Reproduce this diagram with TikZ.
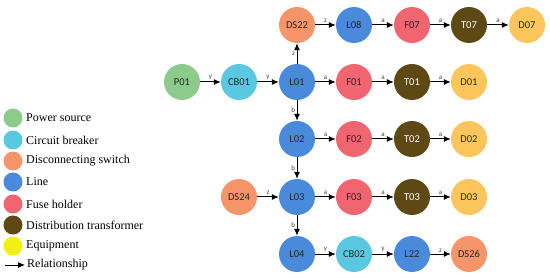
\documentclass[tikz,border=0pt]{standalone}
\usepackage{fontspec}
\setmainfont{Liberation Serif}
\newfontfamily\labelfont{Carlito}
\usepackage{xcolor}
\usetikzlibrary{arrows.meta, positioning}

\definecolor{cPower}{HTML}{8CCB8C}
\definecolor{cBreaker}{HTML}{5BC8E2}
\definecolor{cSwitch}{HTML}{F7956A}
\definecolor{cLine}{HTML}{4A8ADB}
\definecolor{cFuse}{HTML}{EF6570}
\definecolor{cTrans}{HTML}{5E4814}
\definecolor{cEquip}{HTML}{F2F012}
\definecolor{cLoad}{HTML}{FDC65C}

\begin{document}
\begin{tikzpicture}[
    x=1pt, y=-1pt,
    comp node/.style={circle, fill=#1, draw=none, minimum size=36pt, inner sep=0pt, font=\labelfont\fontsize{10.5}{12}\selectfont, text=black!85},
    legend dot/.style={circle, fill=#1, draw=none, minimum size=19pt, inner sep=0pt},
    legend text/.style={anchor=west, inner sep=0pt, font=\fontsize{12}{14}\selectfont},
    rel edge/.style={-{Latex[length=7pt, width=6pt]}, line width=1pt, black},
    edge label/.style={font=\labelfont\fontsize{7}{8}\selectfont, text=black!75, inner sep=1.5pt}
]
    \useasboundingbox (0,0) rectangle (550,278);

    % Fila 0
    \node[comp node=cSwitch] (ds22) at (297, 25) {DS22};
    \node[comp node=cLine]   (l08)  at (354, 25) {L08};
    \node[comp node=cFuse]   (f07)  at (412, 25) {F07};
    \node[comp node=cTrans, text=white!90] (t07) at (469, 25) {T07};
    \node[comp node=cLoad]   (d07)  at (527, 25) {D07};

    % Fila 1
    \node[comp node=cPower]   (p01)  at (182, 82) {P01};
    \node[comp node=cBreaker] (cb01) at (239, 82) {CB01};
    \node[comp node=cLine]    (l01)  at (297, 82) {L01};
    \node[comp node=cFuse]    (f01)  at (354, 82) {F01};
    \node[comp node=cTrans, text=white!90] (t01) at (412, 82) {T01};
    \node[comp node=cLoad]    (d01)  at (469, 82) {D01};

    % Fila 2
    \node[comp node=cLine]  (l02) at (297, 139) {L02};
    \node[comp node=cFuse]  (f02) at (354, 139) {F02};
    \node[comp node=cTrans, text=white!90] (t02) at (412, 139) {T02};
    \node[comp node=cLoad]  (d02) at (469, 139) {D02};

    % Fila 3
    \node[comp node=cSwitch] (ds24) at (239, 197) {DS24};
    \node[comp node=cLine]   (l03)  at (297, 197) {L03};
    \node[comp node=cFuse]   (f03)  at (354, 197) {F03};
    \node[comp node=cTrans, text=white!90] (t03) at (412, 197) {T03};
    \node[comp node=cLoad]   (d03)  at (469, 197) {D03};

    % Fila 4
    \node[comp node=cLine]    (l04)  at (297, 254) {L04};
    \node[comp node=cBreaker] (cb02) at (354, 254) {CB02};
    \node[comp node=cLine]    (l22)  at (412, 254) {L22};
    \node[comp node=cSwitch]  (ds26) at (469, 254) {DS26};

    % Relaciones
    \draw[rel edge] (l01) -- node[left, edge label] {z} (ds22);
    \draw[rel edge] (ds22) -- node[above, edge label] {z} (l08);
    \draw[rel edge] (l08) -- node[above, edge label] {a} (f07);
    \draw[rel edge] (f07) -- node[above, edge label] {a} (t07);
    \draw[rel edge] (t07) -- node[above, edge label] {a} (d07);

    \draw[rel edge] (p01) -- node[above, edge label] {y} (cb01);
    \draw[rel edge] (cb01) -- node[above, edge label] {y} (l01);
    \draw[rel edge] (l01) -- node[above, edge label] {a} (f01);
    \draw[rel edge] (f01) -- node[above, edge label] {a} (t01);
    \draw[rel edge] (t01) -- node[above, edge label] {a} (d01);

    \draw[rel edge] (l01) -- node[left, edge label] {b} (l02);
    \draw[rel edge] (l02) -- node[above, edge label] {a} (f02);
    \draw[rel edge] (f02) -- node[above, edge label] {a} (t02);
    \draw[rel edge] (t02) -- node[above, edge label] {a} (d02);

    \draw[rel edge] (l02) -- node[left, edge label] {b} (l03);
    \draw[rel edge] (ds24) -- node[above, edge label] {z} (l03);
    \draw[rel edge] (l03) -- node[above, edge label] {a} (f03);
    \draw[rel edge] (f03) -- node[above, edge label] {a} (t03);
    \draw[rel edge] (t03) -- node[above, edge label] {a} (d03);

    \draw[rel edge] (l03) -- node[left, edge label] {b} (l04);
    \draw[rel edge] (l04) -- node[above, edge label] {y} (cb02);
    \draw[rel edge] (cb02) -- node[above, edge label] {y} (l22);
    \draw[rel edge] (l22) -- node[above, edge label] {z} (ds26);

    % Leyenda
    \node[legend dot=cPower]   (kpow)  at (13, 118) {};
    \node[legend dot=cBreaker] (kbrk)  at (13, 140) {};
    \node[legend dot=cSwitch]  (ksw)   at (13, 161) {};
    \node[legend dot=cLine]    (kline) at (13, 182) {};
    \node[legend dot=cFuse]    (kfuse) at (13, 204) {};
    \node[legend dot=cTrans]   (ktr)   at (13, 225) {};
    \node[legend dot=cEquip]   (keq)   at (13, 246) {};
    \coordinate (krel1) at (5, 265);
    \coordinate (krel2) at (25, 265);

    \node[legend text] (tpow)  at (26, 118) {Power source};
    \node[legend text] (tbrk)  at (26, 140) {Circuit breaker};
    \node[legend text] (tsw)   at (26, 161) {Disconnecting switch};
    \node[legend text] (tline) at (26, 182) {Line};
    \node[legend text] (tfuse) at (26, 204) {Fuse holder};
    \node[legend text] (ttr)   at (26, 225) {Distribution transformer};
    \node[legend text] (teq)   at (26, 246) {Equipment};
    \node[legend text] (trel)  at (27, 265) {Relationship};
    \draw[rel edge] (krel1) -- (krel2);
\end{tikzpicture}
\end{document}
